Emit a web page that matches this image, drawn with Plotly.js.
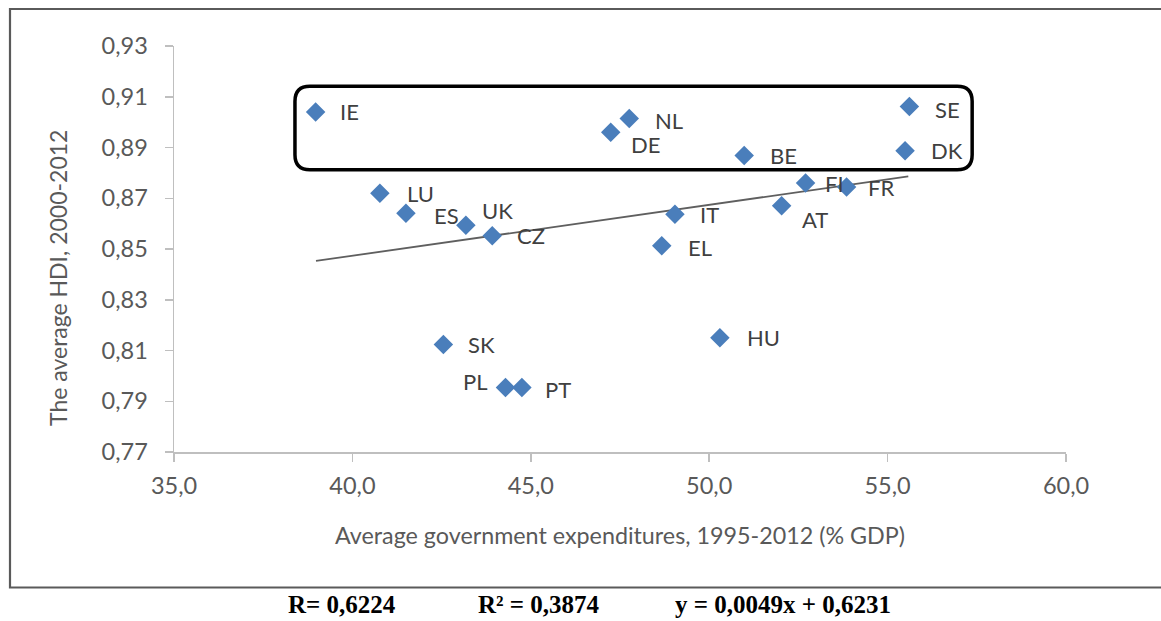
<!DOCTYPE html>
<html>
<head>
<meta charset="utf-8">
<script src="https://cdn.plot.ly/plotly-3.0.1.min.js"></script>
<style>
  html, body { margin: 0; padding: 0; background: #ffffff; }
  #chart { width: 1161px; height: 621px; }
</style>
</head>
<body>
<div id="chart"></div>
<script>
// ---- Data ----
var countries = ["IE", "SE", "DK", "NL", "DE", "BE", "FI", "FR", "IT", "AT", "EL", "HU", "LU", "ES", "UK", "CZ", "SK", "PL", "PT"];
var govExpenditure = [38.97, 55.61, 55.49, 47.76, 47.24, 50.98, 52.70, 53.85, 49.04, 52.03, 48.67, 50.30, 40.77, 41.50, 43.18, 43.92, 42.55, 44.29, 44.75];
var avgHDI = [0.904, 0.9062, 0.8887, 0.9014, 0.8960, 0.8868, 0.8760, 0.8744, 0.8637, 0.8670, 0.8513, 0.8150, 0.8720, 0.8641, 0.8594, 0.8552, 0.8124, 0.7954, 0.7954];

// Linear trend line as drawn in the figure (end points)
var trendX = [38.98, 55.58];
var trendY = [0.8453, 0.8786];

// Highlight box around the high-HDI group
var boxX = [38.39, 57.37];
var boxY = [0.8812, 0.9141];

var xTicks = [35, 40, 45, 50, 55, 60];
var yTicks = [0.77, 0.79, 0.81, 0.83, 0.85, 0.87, 0.89, 0.91, 0.93];

var xTitle = "Average government expenditures, 1995-2012 (% GDP)";
var yTitle = "The average HDI, 2000-2012";
var statsTexts = ["R= 0,6224", "R\u00b2 = 0,3874", "y = 0,0049x + 0,6231"];

// ---- Styling / placement (not data) ----
var W = 1161, H = 621;
var M = {l: 174, r: 95, t: 46, b: 169};
var plotW = W - M.l - M.r, plotH = H - M.t - M.b;
var pxPerX = plotW / (60 - 35), pxPerY = plotH / (0.93 - 0.77);
function px2paperX(px) { return (px - M.l) / plotW; }
function px2paperY(py) { return (H - M.b - py) / plotH; }

// label offsets in px: [dx, dy(up), anchor]
var labelOffsets = {
  IE: [22, 0, "left"], SE: [24, -3, "left"], DK: [24, 0, "left"], NL: [24, -2, "left"],
  DE: [18, -12, "left"], BE: [24, 0, "left"], FI: [17, 0, "left"], FR: [19, 0, "left"],
  IT: [23, 0, "left"], AT: [18, -14, "left"], EL: [24, -2, "left"], HU: [25, 0, "left"],
  LU: [25, 0, "left"], ES: [26, -2, "left"], UK: [14, 15, "left"], CZ: [23, 0, "left"],
  SK: [23, 0, "left"], PL: [-15, 6, "right"], PT: [21, -2, "left"]
};

var fontFam = "Lato, 'Open Sans', sans-serif";
var txtColor = "#404040";

var annotations = countries.map(function (c, i) {
  var o = labelOffsets[c];
  return {
    x: govExpenditure[i], y: avgHDI[i], xref: "x", yref: "y",
    text: c, showarrow: false, xanchor: o[2], yanchor: "middle",
    xshift: o[0], yshift: o[1],
    font: {family: fontFam, size: 22, color: txtColor}
  };
});

// y-axis title (placed as in the reference, centred lower than the plot middle)
annotations.push({
  x: px2paperX(58), y: px2paperY(278), xref: "paper", yref: "paper",
  text: yTitle, textangle: -90, showarrow: false, xanchor: "center", yanchor: "middle",
  font: {family: fontFam, size: 23, color: "#595959"}
});

// bottom statistics line
var statsCenters = [341.5, 538.5, 782.5];
statsTexts.forEach(function (t, i) {
  annotations.push({
    x: px2paperX(statsCenters[i]), y: px2paperY(604),
    xref: "paper", yref: "paper", text: "<b>" + t + "</b>", showarrow: false,
    xanchor: "center", yanchor: "middle", borderpad: 0,
    font: {family: "'Liberation Serif', 'Times New Roman', serif", size: 25, color: "#000000"}
  });
});

// rounded rectangle path
var rx = 15 / pxPerX, ry = 15 / pxPerY;
var x0 = boxX[0], x1 = boxX[1], y0 = boxY[0], y1 = boxY[1];
var boxPath = "M" + (x0 + rx) + "," + y1 +
  " L" + (x1 - rx) + "," + y1 +
  " Q" + x1 + "," + y1 + " " + x1 + "," + (y1 - ry) +
  " L" + x1 + "," + (y0 + ry) +
  " Q" + x1 + "," + y0 + " " + (x1 - rx) + "," + y0 +
  " L" + (x0 + rx) + "," + y0 +
  " Q" + x0 + "," + y0 + " " + x0 + "," + (y0 + ry) +
  " L" + x0 + "," + (y1 - ry) +
  " Q" + x0 + "," + y1 + " " + (x0 + rx) + "," + y1 + " Z";

var shapes = [
  {type: "path", xref: "x", yref: "y", path: boxPath, line: {color: "#000000", width: 3.5}, layer: "above"},
  // outer frame
  {type: "rect", xref: "paper", yref: "paper",
   x0: px2paperX(10), x1: px2paperX(1175),
   y0: px2paperY(587.5), y1: px2paperY(9),
   line: {color: "#5a5a5a", width: 2.2}, fillcolor: "rgba(0,0,0,0)", layer: "below"}
];

var traces = [
  {x: trendX, y: trendY, mode: "lines", type: "scatter",
   line: {color: "#5f5f5f", width: 1.8}, hoverinfo: "skip", showlegend: false},
  {x: govExpenditure, y: avgHDI, text: countries, mode: "markers", type: "scatter",
   marker: {symbol: "diamond", size: 15, color: "#4a7ebb", line: {width: 0}},
   showlegend: false}
];

var axisCommon = {
  showgrid: false, zeroline: false, showline: true, linecolor: "#bfbfbf", linewidth: 1.5,
  ticks: "outside", ticklen: 8, tickwidth: 1.5, tickcolor: "#bfbfbf",
  tickfont: {family: fontFam, size: 23.5, color: "#595959"}, fixedrange: true
};

var layout = {
  width: W, height: H, margin: M,
  paper_bgcolor: "#ffffff", plot_bgcolor: "#ffffff",
  separators: ", ",
  showlegend: false,
  xaxis: Object.assign({}, axisCommon, {
    range: [35, 60], tickvals: xTicks, tickformat: ".1f", ticklabelstandoff: 4,
    title: {text: xTitle, standoff: 30, font: {family: fontFam, size: 23.3, color: "#595959"}}
  }),
  yaxis: Object.assign({}, axisCommon, {
    range: [0.77, 0.93], tickvals: yTicks, tickformat: ".2f", ticklabelstandoff: 12
  }),
  annotations: annotations,
  shapes: shapes
};

Plotly.newPlot("chart", traces, layout, {displayModeBar: false, staticPlot: true});
</script>
</body>
</html>
